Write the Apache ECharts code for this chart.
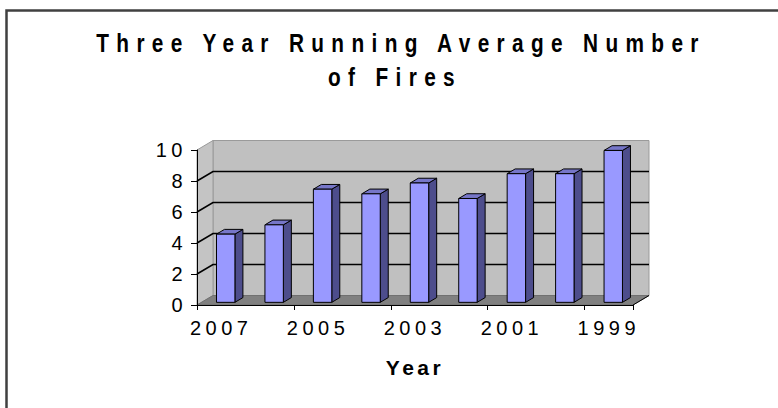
<!DOCTYPE html>
<html>
<head>
<meta charset="utf-8">
<script src="https://cdn.jsdelivr.net/npm/echarts@6/dist/echarts.min.js"></script>
<style>
  html, body { margin: 0; padding: 0; background: #fff; }
  #chart { width: 778px; height: 408px; }
  /* spaced-out lettering of the old spreadsheet chart */
  #chart text[style*="26px"] { letter-spacing: 9.2px; }
  #chart text[style*="21px"] { letter-spacing: 3.5px; }
  #chart text[style*="20px"] { letter-spacing: 4.5px; }
</style>
</head>
<body>
<div id="chart"></div>
<script>
// Three-year running average number of fires, newest year first
const titleLines = ['Three Year Running Average Number', 'of Fires'];
const years = ['2007', '2006', '2005', '2004', '2003', '2002', '2001', '2000', '1999'];
const fires = [4.4, 5.0, 7.3, 7.0, 7.7, 6.7, 8.3, 8.3, 9.8];
const valueTicks = [0, 2, 4, 6, 8, 10];
const xAxisTitle = 'Year';

// projection of the chart depth (pixels right / up from the front plane)
const DEPTH = [16, -9.5];
const BAR_FRONT = 0.28, BAR_BACK = 0.78, BAR_WIDTH = 0.38;

const chart = echarts.init(document.getElementById('chart'), null, { renderer: 'svg' });

function renderWalls(params, api) {
  const cs = params.coordSys;
  const x0 = cs.x, x1 = cs.x + cs.width;
  const yBot = api.coord([0, valueTicks[0]])[1];
  const yTop = api.coord([0, valueTicks[valueTicks.length - 1]])[1];
  const dx = DEPTH[0], dy = DEPTH[1];
  const edge = { stroke: '#9a9a9a', lineWidth: 1 };
  const children = [
    { type: 'polygon', shape: { points: [[x0 + dx, yTop + dy], [x1 + dx, yTop + dy], [x1 + dx, yBot + dy], [x0 + dx, yBot + dy]] },
      style: Object.assign({ fill: '#c0c0c0' }, edge) },
    { type: 'polygon', shape: { points: [[x0, yBot], [x0, yTop], [x0 + dx, yTop + dy], [x0 + dx, yBot + dy]] },
      style: Object.assign({ fill: '#c4c4c4' }, edge) },
    { type: 'polygon', shape: { points: [[x0, yBot], [x1, yBot], [x1 + dx, yBot + dy], [x0 + dx, yBot + dy]] },
      style: { fill: '#808080', stroke: '#707070', lineWidth: 1 } }
  ];
  valueTicks.slice(1, -1).forEach(function (t) {
    const y = api.coord([0, t])[1];
    children.push({ type: 'polyline', shape: { points: [[x0, y], [x0 + dx, y + dy], [x1 + dx, y + dy]] },
      style: { stroke: '#000', lineWidth: 1.6, fill: null } });
  });
  // right end of the floor
  children.push({ type: 'line', shape: { x1: x1, y1: yBot, x2: x1 + dx, y2: yBot + dy },
    style: { stroke: '#000', lineWidth: 1 } });
  return { type: 'group', children: children };
}

function renderBar(params, api) {
  const i = api.value(0), v = api.value(1);
  const top = api.coord([i, v]);
  const base = api.coord([i, 0]);
  const bw = api.size([1, 0])[0];
  const w = bw * BAR_WIDTH;
  const fx = DEPTH[0] * BAR_FRONT, fy = DEPTH[1] * BAR_FRONT;
  const ddx = DEPTH[0] * (BAR_BACK - BAR_FRONT), ddy = DEPTH[1] * (BAR_BACK - BAR_FRONT);
  const xl = top[0] - w / 2 + fx, xr = xl + w;
  const yt = top[1] + fy, yb = base[1] + fy;
  const line = { stroke: '#000', lineWidth: 1 };
  return {
    type: 'group',
    children: [
      { type: 'polygon', shape: { points: [[xr, yt], [xr + ddx, yt + ddy], [xr + ddx, yb + ddy], [xr, yb]] },
        style: Object.assign({ fill: '#4d4d8c' }, line) },
      { type: 'polygon', shape: { points: [[xl, yt], [xr, yt], [xr + ddx, yt + ddy], [xl + ddx, yt + ddy]] },
        style: Object.assign({ fill: '#7676c8' }, line) },
      { type: 'rect', shape: { x: xl, y: yt, width: w, height: yb - yt },
        style: Object.assign({ fill: '#9999ff' }, line) }
    ]
  };
}

const tickFont = { fontFamily: 'Liberation Sans', fontSize: 20, color: '#000' };

chart.setOption({
  animation: false,
  backgroundColor: '#fff',
  graphic: [
    { type: 'rect', silent: true, shape: { x: 6.5, y: 10.5, width: 820, height: 440 },
      style: { fill: 'none', stroke: '#404040', lineWidth: 2.5 } },
    { type: 'text', x: 401, y: 43, scaleX: 0.8,
      style: { text: titleLines[0], fontFamily: 'Liberation Sans', fontWeight: 'bold', fontSize: 26,
        fill: '#000', textAlign: 'center', textVerticalAlign: 'middle' } },
    { type: 'text', x: 395, y: 77, scaleX: 0.8,
      style: { text: titleLines[1], fontFamily: 'Liberation Sans', fontWeight: 'bold', fontSize: 26,
        fill: '#000', textAlign: 'center', textVerticalAlign: 'middle' } }
  ],
  grid: { left: 197, right: 145, top: 150, bottom: 103 },
  xAxis: {
    type: 'category', data: years, z: 6,
    name: xAxisTitle, nameLocation: 'middle', nameGap: 52,
    nameTextStyle: { fontFamily: 'Liberation Sans', fontWeight: 'bold', fontSize: 21, color: '#000' },
    axisLine: { lineStyle: { color: '#000', width: 1 } },
    axisTick: { show: true, length: 5, lineStyle: { color: '#000' } },
    axisLabel: Object.assign({ interval: 1, margin: 13 }, tickFont),
    splitLine: { show: false }
  },
  yAxis: {
    type: 'value', z: 6,
    min: valueTicks[0], max: valueTicks[valueTicks.length - 1], interval: valueTicks[1] - valueTicks[0],
    axisLine: { show: true, lineStyle: { color: '#000', width: 1 } },
    axisTick: { show: true, length: 6, lineStyle: { color: '#000' } },
    axisLabel: Object.assign({ margin: 10 }, tickFont),
    splitLine: { show: false }
  },
  series: [
    { type: 'custom', name: 'walls', z: 1, silent: true, renderItem: renderWalls, data: [[0, 0]] },
    { type: 'custom', name: 'fires', z: 3, renderItem: renderBar,
      data: fires.map(function (v, i) { return [i, v]; }),
      encode: { x: 0, y: 1 } }
  ]
});
</script>
</body>
</html>
